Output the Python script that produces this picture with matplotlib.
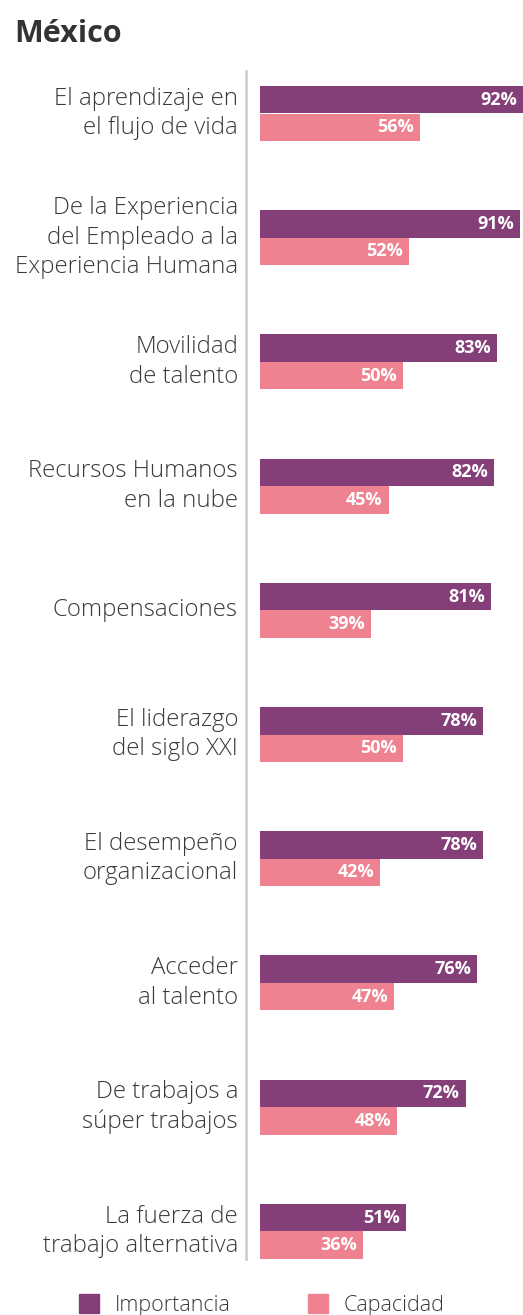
import os
import matplotlib
matplotlib.use("Agg")
import matplotlib.pyplot as plt
import matplotlib.patches as mpatches
from matplotlib.font_manager import FontProperties
import numpy as np

FONT_DIR = "/usr/share/fonts/truetype/open-sans/"


def font(fname, size, weight):
    path = os.path.join(FONT_DIR, fname)
    if os.path.exists(path):
        return FontProperties(fname=path, size=size)
    return FontProperties(family="Open Sans", weight=weight, size=size)


categories = [
    "El aprendizaje en\nel flujo de vida",
    "De la Experiencia\ndel Empleado a la\nExperiencia Humana",
    "Movilidad\nde talento",
    "Recursos Humanos\nen la nube",
    "Compensaciones",
    "El liderazgo\ndel siglo XXI",
    "El desempeño\norganizacional",
    "Acceder\nal talento",
    "De trabajos a\nsúper trabajos",
    "La fuerza de\ntrabajo alternativa",
]
importancia = [92, 91, 83, 82, 81, 78, 78, 76, 72, 51]
capacidad = [56, 52, 50, 45, 39, 50, 42, 47, 48, 36]

C_IMP = "#843e78"
C_CAP = "#ef8290"
TEXT = "#3a3a3a"

W, H = 523, 1315
fig = plt.figure(figsize=(W / 100, H / 100), dpi=100)

# axes spans the grey axis line: x 246 -> right edge, y 71 -> 1259 px
ax_left, ax_top, ax_bot = 246, 71, 1259
ax = fig.add_axes([ax_left / W, 1 - ax_bot / H, (W - ax_left) / W, (ax_bot - ax_top) / H])

px_per_pct = 2.857
zero_px = 260
x_min = -(zero_px - ax_left) / px_per_pct
x_max = (W - zero_px) / px_per_pct
ax.set_xlim(x_min, x_max)

row_px = 124.2
first_center = 113.5
ax.set_ylim((ax_bot - first_center) / row_px, (ax_top - first_center) / row_px)

y = np.arange(len(categories))
bh = 0.222
b1 = ax.barh(y - bh / 2, importancia, height=bh, color=C_IMP, linewidth=0)
b2 = ax.barh(y + bh / 2, capacidad, height=bh, color=C_CAP, linewidth=0)

val_font = font("OpenSans-Bold.ttf", 13, "bold")
for bars, vals in ((b1, importancia), (b2, capacidad)):
    for bar, v in zip(bars, vals):
        ax.annotate(f"{v}%", (v, bar.get_y() + bar.get_height() / 2),
                    xytext=(-4.3, 0), textcoords="offset points",
                    ha="right", va="center", color="white",
                    fontproperties=val_font)

ax.set_xticks([])
ax.set_yticks([])
for s in ("top", "right", "bottom"):
    ax.spines[s].set_visible(False)
ax.spines["left"].set_color("#d0d0cc")
ax.spines["left"].set_linewidth(2)

lab_font = font("OpenSans-Light.ttf", 17.3, "light")
for yi, lab in zip(y, categories):
    ax.text(x_min - 8 / px_per_pct, yi, lab, ha="right", va="center",
            color=TEXT, linespacing=1.3, fontproperties=lab_font)

fig.text(14 / W, 1 - 42 / H, "México", ha="left", va="baseline",
         color="#333333", fontproperties=font("OpenSans-Bold.ttf", 22, "bold"))

handles = [mpatches.Patch(color=C_IMP, label="Importancia"),
           mpatches.Patch(color=C_CAP, label="Capacidad")]
leg = fig.legend(handles=handles, loc="center", bbox_to_anchor=(0.5, 1 - 1305 / H),
                 ncol=2, frameon=False, prop=font("OpenSans-Light.ttf", 15.5, "light"),
                 handlelength=0.95, handleheight=0.95, handletextpad=0.7,
                 columnspacing=3.6, borderaxespad=0)
for t in leg.get_texts():
    t.set_color(TEXT)

fig.savefig("out.png", dpi=100)
